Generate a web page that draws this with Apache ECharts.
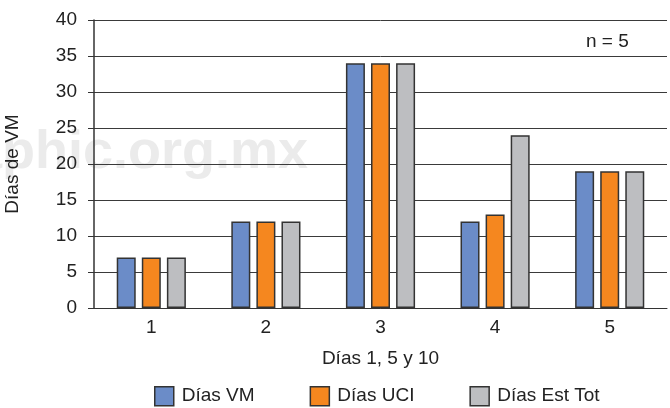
<!DOCTYPE html>
<html>
<head>
<meta charset="utf-8">
<script src="https://cdn.jsdelivr.net/npm/echarts@6/dist/echarts.min.js"></script>
<style>
  html, body { margin: 0; padding: 0; background: #fff; }
  #chart { width: 670px; height: 408px; }
</style>
</head>
<body>
<div id="chart"></div>
<script>
// Días por paciente (n = 5)
const categories = ['1', '2', '3', '4', '5'];
const diasVM = [7, 12, 34, 12, 19];
const diasUCI = [7, 12, 34, 13, 19];
const diasEstTot = [7, 12, 34, 24, 19];
const seriesNames = ['Días VM', 'Días UCI', 'Días Est Tot'];
const seriesColors = ['#6b8cc8', '#f5871f', '#bdbec1'];

const FONT = '"Liberation Sans", Arial, Helvetica, sans-serif';
const chart = echarts.init(document.getElementById('chart'), null, { renderer: 'canvas' });

function barSeries(name, data, color) {
  return {
    name: name,
    type: 'bar',
    data: data,
    barWidth: 19,
    barGap: '32%',
    itemStyle: { color: color, borderColor: '#333', borderWidth: 1.5 }
  };
}

chart.setOption({
  animation: false,
  backgroundColor: '#fff',
  grid: { left: 94, right: 3, top: 20, bottom: 100, containLabel: false, outerBoundsMode: 'none' },
  graphic: [
    {
      type: 'text', z: -10, right: 362, top: 126, silent: true,
      style: { text: 'medigraphic.org.mx', font: 'bold 54px ' + FONT, fill: '#ebebeb', textAlign: 'right' }
    },
    {
      type: 'text', left: 586, top: 32,
      style: { text: 'n = 5', font: '19px ' + FONT, fill: '#222' }
    }
  ],
  legend: {
    data: seriesNames,
    top: 381,
    left: 149,
    itemWidth: 19,
    itemHeight: 19,
    itemGap: 55,
    icon: 'rect',
    textStyle: { fontFamily: FONT, fontSize: 19, color: '#222', padding: [0, 0, 0, 3] },
    itemStyle: { borderColor: '#333', borderWidth: 1.5 }
  },
  xAxis: {
    type: 'category',
    data: categories,
    name: 'Días 1, 5 y 10',
    nameLocation: 'middle',
    nameGap: 41,
    nameTextStyle: { fontFamily: FONT, fontSize: 19, color: '#222' },
    axisLine: { lineStyle: { color: '#333', width: 1 } },
    axisTick: { show: false },
    axisLabel: { fontFamily: FONT, fontSize: 19, color: '#222', margin: 10 }
  },
  yAxis: {
    type: 'value',
    min: 0, max: 40, interval: 5,
    name: 'Días de VM',
    nameLocation: 'middle',
    nameGap: 72,
    nameRotate: 90,
    nameTextStyle: { fontFamily: FONT, fontSize: 19, color: '#222' },
    axisLine: { show: true, lineStyle: { color: '#333', width: 1.5 } },
    axisTick: { show: true, length: 6, lineStyle: { color: '#333' } },
    axisLabel: { fontFamily: FONT, fontSize: 19, color: '#222', margin: 17 },
    splitLine: { lineStyle: { color: '#3a3a3a', width: 1 } }
  },
  series: [
    barSeries(seriesNames[0], diasVM, seriesColors[0]),
    barSeries(seriesNames[1], diasUCI, seriesColors[1]),
    barSeries(seriesNames[2], diasEstTot, seriesColors[2])
  ]
});
</script>
</body>
</html>
